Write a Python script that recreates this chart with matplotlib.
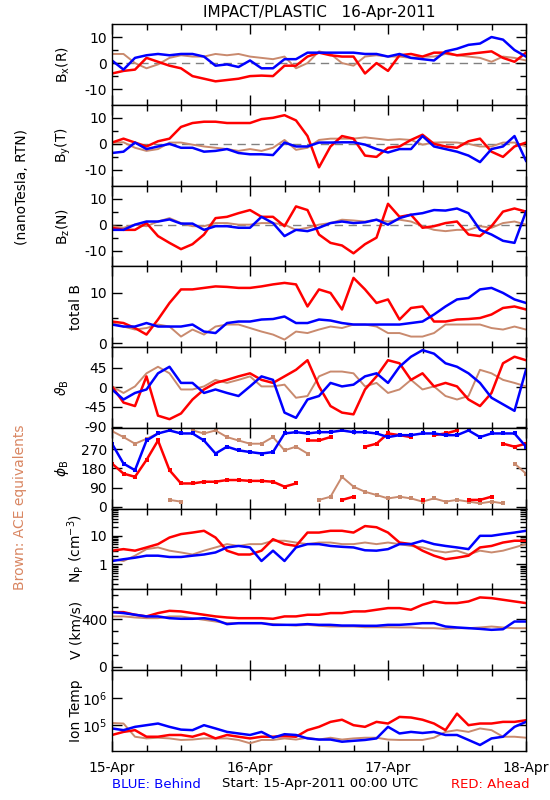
import numpy as np
import matplotlib
matplotlib.use("Agg")
import matplotlib.pyplot as plt
from matplotlib.ticker import FixedLocator, NullFormatter, LogLocator, NullLocator

hours = np.arange(0, 73, 2)

# magnetic field components (nT)
bx_red = [-4, -3, -2.5, 2, 0.5, -1, -2, -5, -6, -7, -6.5, -6, -5, -4.8, -5, -1, -1, 2.5, 4, 3, 2.5, 2.5, -4, 0, -3, 3, 3.5, 2.5, 4, 4, 3, 3.5, 4, 4.5, 2, 0.5, 4]
bx_blue = [1, -2.5, 2, 3, 3.5, 3, 3.5, 3.5, 2.5, -1, -0.5, -1.5, 1, -2, -2, 1.5, 1.5, 4, 4, 4, 4, 4, 3.5, 3.5, 2.5, 3.5, 2, 1.5, 1, 4.5, 5.5, 7, 7.5, 10, 9, 5, 2.5]
bx_ace = [3.5, 3.5, 0, -2, -0.5, 2, 3, 2.5, 2.5, 3.5, 3, 3.5, 2.5, 2, 1.5, 2.5, -2, 0, 4.5, 3.5, 0, -1, 2.5, 3, 2.5, 2.5, 2, 2.5, 2.5, 3.5, 3, 2.5, 2, 0.5, 2.5, 2, 1]

by_red = [0.5, 2, 0.5, -1, 1, 2, 6.5, 8, 8.5, 8.5, 8, 8, 8, 9.5, 10, 11, 9, 3, -9, -1, 3, 2, -4.5, -5, -1.5, -1, 1.5, 3.5, 0, -1, -1.5, 1, 2, -3, -5, -1, 0.5]
by_blue = [-3.5, -3, 0.5, -2, -1, 0, -1.5, -1.5, -3, -2.7, -2, -3.5, -4, -4, -4.3, 0.5, -1, -1, 0.5, 0.5, 0.6, 0.6, -0.3, -2, -3.3, -2, -2, 3, -1, -2, -3, -4.5, -7, -2, -1, 3, -6.5]
by_ace = [0.5, 0.6, -1.5, -2.7, -2, 0.5, 0.5, -0.3, -1, -1.5, -2, -2.7, -2, -2.7, -1.5, 1.5, -2.3, -1.5, 1.5, 2, 2, 2, 2.5, 2, 1.5, 1.8, 1.5, -0.3, 0.5, 0.6, 0.5, 0, -1, -1, 0.5, 0.5, -1]

bz_red = [-1.2, -2, -2, 0.6, -4.4, -7, -9.4, -7.5, -3.8, 2.5, 3, 4.4, 5.6, 3, 3, -0.6, 7, 5.6, -3.8, -7, -8, -11, -7.5, -5, 8, 3, 3.8, -1.2, -0.6, 0.6, 1.2, -3.8, -4.4, -0.6, 5, 6.2, 5]
bz_blue = [-2, -2, 0, 1.2, 1.2, 2, 0.4, 0.4, -2, -0.6, -0.6, -1.2, -1.2, 3, 0.6, -4.4, -2, -2.5, -1.2, 0.6, 1.2, 0.6, 0.9, 1.9, 0, 2.5, 3.8, 4.4, 5.6, 5.4, 6.2, 4.4, -2, -3.8, -6.2, -7, 5]
bz_ace = [-0.6, -1.2, 0, -0.6, 1.2, 2.5, 0.6, -0.6, -0.6, 0.6, 0.6, 0, 0, 0.6, 0.6, 0, -2, -1.2, 0, 0.6, 1.9, 1.6, 1.2, 1.9, 1.2, 1.9, 1.2, -0.6, -2, -2.5, -2, -2, -0.6, -1.2, 0.6, 1.2, 0]

bt_red = [4.3, 4, 3, 1.7, 4.7, 8, 10.7, 10.7, 11, 11.3, 11.2, 11, 11, 11.3, 11.7, 12, 11.7, 7.3, 10.7, 10, 6.7, 13, 10.7, 8, 8.7, 4.7, 7, 7.3, 4.3, 4.3, 4.7, 4.8, 5, 5.7, 7, 7.3, 6.7]
bt_blue = [3.7, 3.3, 3.3, 4, 3.3, 3.3, 3.3, 3.7, 2.3, 2, 4, 4.3, 4.3, 4.7, 4.8, 5.3, 4, 4, 4.7, 4.5, 4, 3.7, 3.7, 3.7, 3.7, 3.7, 4, 4.3, 5.7, 7.3, 8.7, 9, 10.7, 11, 10, 8.7, 8]
bt_ace = [4, 3.3, 2.7, 3, 3.7, 3.3, 1.3, 2.7, 1.7, 3.3, 3.7, 3.7, 3, 2.3, 1.7, 0.7, 2.3, 2, 2.7, 3.3, 3, 3.7, 3.7, 3.3, 2, 2, 1.3, 1.3, 2, 3.7, 3.7, 3.7, 3.7, 3, 2.7, 3.3, 2.7]

# field angles (deg)
th_red = [2, -35, -43, 25, -65, -73, -60, -28, -5, 10, 17, 25, 32, 17, 10, 25, 40, 62, 2, -43, -58, -62, -5, 25, 62, 55, 17, 32, 2, 10, 2, -28, -43, -13, 55, 70, 62]
th_blue = [-5, -28, -13, -5, 32, 47, 10, 10, -13, -5, -13, -20, 2, 25, 17, -58, -70, -28, -20, 10, 2, 6, 25, 32, 10, 47, 70, 85, 77, 55, 47, 32, 10, -24, -39, -54, 40]
th_ace = [2, -13, 2, 32, 47, 32, -5, -5, 2, 17, 10, 17, 25, 2, 2, 6, -24, -20, 25, 36, 36, 32, 2, 10, -13, -5, 17, -5, 2, -20, -28, -20, 40, 32, 17, 10, 2]

ph_red = [203, 156, 141, 220, 311, 172, 110, 110, 118, 118, 126, 126, 122, 122, 118, 95, 110, 311, 311, 327, 33, 48, 282, 296, 344, 336, 327, 33, 336, 344, 358, 33, 33, 48, 296, 282, 296]
ph_blue = [296, 203, 172, 311, 344, 358, 344, 344, 311, 250, 282, 265, 257, 250, 257, 344, 350, 344, 350, 350, 358, 350, 350, 344, 327, 336, 336, 344, 344, 336, 336, 358, 327, 344, 344, 344, 282]
ph_ace = [355, 327, 296, 319, 344, 33, 25, 358, 344, 358, 327, 311, 296, 296, 327, 265, 282, 250, 33, 48, 141, 95, 71, 56, 40, 48, 40, 25, 40, 25, 33, 25, 17, 25, 17, 203, 156]

# proton density (cm^-3)
np_red = [3.0, 3.4, 3.0, 3.9, 5.1, 8.7, 11.5, 13, 15, 8.7, 3.0, 2.2, 2.2, 3.0, 7.6, 5.1, 4.4, 13, 13, 15, 15, 13, 22, 20, 13, 5.8, 5.1, 3.0, 2.0, 1.5, 1.7, 2.0, 3.9, 4.4, 5.8, 6.7, 6.7]
np_blue = [1.3, 1.5, 1.7, 2.0, 2.0, 1.8, 1.8, 2.0, 2.2, 2.6, 3.9, 4.4, 3.9, 1.3, 3.0, 1.3, 3.9, 5.1, 5.1, 4.4, 4.1, 3.9, 3.1, 3.0, 3.4, 5.1, 5.1, 6.7, 5.1, 4.4, 3.9, 3.4, 10, 10, 11.5, 13, 15]
np_ace = [1.5, 1.3, 2.0, 3.4, 3.9, 3.0, 2.6, 2.2, 3.0, 3.9, 5.1, 4.4, 5.1, 5.1, 6.7, 6.7, 5.8, 5.1, 5.8, 5.8, 5.1, 5.1, 5.8, 5.1, 5.8, 5.1, 4.4, 3.9, 3.0, 2.6, 3.0, 2.2, 3.0, 2.6, 3.0, 3.9, 5.1]

# bulk speed (km/s)
v_red = [459, 459, 437, 423, 451, 470, 465, 451, 437, 423, 414, 408, 408, 408, 403, 423, 423, 437, 437, 451, 451, 465, 465, 479, 493, 493, 479, 521, 549, 535, 535, 549, 583, 577, 563, 549, 535]
v_blue = [459, 451, 437, 423, 423, 408, 403, 403, 408, 394, 358, 366, 366, 366, 352, 352, 352, 358, 352, 352, 346, 346, 344, 344, 352, 352, 358, 366, 366, 338, 330, 324, 318, 310, 315, 380, 380]
v_ace = [423, 423, 414, 408, 408, 423, 423, 408, 394, 380, 366, 366, 366, 366, 358, 352, 346, 352, 344, 338, 338, 338, 332, 332, 332, 330, 330, 324, 324, 318, 324, 324, 330, 338, 330, 324, 324]

# ion temperature (thousand K)
t_red = [44, 57, 66, 38, 38, 44, 44, 38, 50, 33, 44, 38, 33, 38, 38, 40, 38, 66, 87, 132, 158, 100, 87, 132, 115, 200, 190, 158, 115, 66, 263, 100, 115, 115, 132, 132, 151]
t_blue = [76, 66, 87, 100, 115, 87, 69, 66, 100, 76, 57, 50, 44, 57, 35, 47, 44, 33, 30, 30, 25, 27, 29, 33, 87, 50, 57, 52, 57, 44, 44, 29, 19, 33, 38, 87, 132]
t_ace = [120, 115, 38, 33, 35, 33, 29, 30, 33, 33, 33, 29, 22, 29, 29, 33, 30, 35, 30, 35, 30, 33, 35, 35, 30, 29, 29, 29, 35, 57, 66, 57, 76, 66, 38, 38, 35]

RED = '#ff0000'
BLUE = '#0000ff'
BROWN = '#c98a6e'

plt.rcParams['font.family'] = 'DejaVu Sans'

fig = plt.figure(figsize=(5.5, 8), dpi=100)
W, H = 550.0, 800.0
left, right, top, bottom = 112, 526, 24, 751
ph = (bottom - top) / 9.0


def unwrap_gaps(y):
    # break the line where the angle wraps around 0/360
    y = np.asarray(y, dtype=float)
    xs, ys = [hours[0]], [y[0]]
    for i in range(1, len(y)):
        if abs(y[i] - y[i - 1]) > 180:
            xs.append(np.nan)
            ys.append(np.nan)
        xs.append(hours[i])
        ys.append(y[i])
    return xs, ys


panels = [
    ('B$_\\mathregular{x}$(R)', bx_ace, bx_red, bx_blue, (-16, 15), [-10, 0, 10], [-5, 5], 63),
    ('B$_\\mathregular{y}$(T)', by_ace, by_red, by_blue, (-16, 15), [-10, 0, 10], [-5, 5], 63),
    ('B$_\\mathregular{z}$(N)', bz_ace, bz_red, bz_blue, (-16, 15), [-10, 0, 10], [-5, 5], 63),
    ('total B', bt_ace, bt_red, bt_blue, (-0.8, 15.3), [0, 10], [5], 76),
    ('$\\vartheta_\\mathregular{B}$', th_ace, th_red, th_blue, (-93, 92), [-90, -45, 0, 45], [], 62),
    ('$\\phi_\\mathregular{B}$', ph_ace, ph_red, ph_blue, (-8, 370), [0, 90, 180, 270], [], 62),
    ('N$_\\mathregular{P}$ (cm$^\\mathregular{-3}$)', np_ace, np_red, np_blue, (0.13, 90), [1, 10], 'log', 76),
    ('V (km/s)', v_ace, v_red, v_blue, (-30, 650), [0, 400], [100, 200, 300, 500, 600], 76),
    ('Ion Temp', [t * 1e3 for t in t_ace], [t * 1e3 for t in t_red], [t * 1e3 for t in t_blue],
     (1.15e4, 1e7), [1e5, 1e6], [], 76),
]

for i, (label, ace, red, blue, ylim, yt, ymin, lx) in enumerate(panels):
    y0 = top + i * ph
    ax = fig.add_axes([left / W, 1 - (y0 + ph) / H, (right - left) / W, ph / H])
    if i in (6, 8):
        ax.set_yscale('log')
    for series, col, lw in ((ace, BROWN, 1.4), (red, RED, 1.8), (blue, BLUE, 1.8)):
        if i == 5:
            xs, ys = unwrap_gaps(series)
            ax.plot(xs, ys, color=col, lw=lw)
            ax.plot(hours, series, ls='none', marker='s', ms=3, color=col, mew=0)
        else:
            ax.plot(hours, series, color=col, lw=lw)
    if i < 3:
        ax.axhline(0, color='#808080', lw=1, ls=(0, (6, 4)), zorder=0)

    ax.set_xlim(0, 72)
    ax.set_ylim(*ylim)
    ax.xaxis.set_major_locator(FixedLocator([0, 24, 48, 72]))
    ax.xaxis.set_minor_locator(FixedLocator(np.arange(0, 73, 6)))
    ax.yaxis.set_major_locator(FixedLocator(yt))
    if ymin == 'log':
        ax.yaxis.set_minor_locator(LogLocator(base=10, subs=np.arange(2, 10)))
    elif len(ymin) == 0:
        ax.yaxis.set_minor_locator(NullLocator())
    else:
        ax.yaxis.set_minor_locator(FixedLocator(ymin))
    ax.yaxis.set_minor_formatter(NullFormatter())
    if i == 6:
        ax.set_yticklabels(['1', '10'])
    elif i == 8:
        ax.set_yticklabels(['10$^\\mathregular{5}$', '10$^\\mathregular{6}$'])
    else:
        ax.set_yticklabels([str(v) for v in yt])
    ax.tick_params(which='both', direction='in', top=True, right=True, labelsize=10, width=1)
    ax.tick_params(which='major', length=7)
    ax.tick_params(which='minor', length=4)
    for s in ax.spines.values():
        s.set_linewidth(1)
    if i == 8:
        ax.set_xticklabels(['15-Apr', '16-Apr', '17-Apr', '18-Apr'])
        ax.tick_params(axis='x', which='major', pad=7, labelsize=10)
    else:
        ax.set_xticklabels([])
    fig.text(lx / W, 1 - (y0 + ph / 2) / H, label, rotation=90, ha='center', va='center', fontsize=10)

fig.text(319 / W, 1 - 12 / H, 'IMPACT/PLASTIC   16-Apr-2011', ha='center', va='center', fontsize=11)
fig.text(22 / W, 1 - 187 / H, '(nanoTesla, RTN)', rotation=90, ha='center', va='center', fontsize=10)
fig.text(20 / W, 1 - 507 / H, 'Brown: ACE equivalents', rotation=90, ha='center', va='center',
         fontsize=10, color='#d98662')
fig.text(156 / W, 1 - 785 / H, 'BLUE: Behind', ha='center', va='center', fontsize=9.5, color=BLUE)
fig.text(320 / W, 1 - 784 / H, 'Start: 15-Apr-2011 00:00 UTC', ha='center', va='center', fontsize=9.5)
fig.text(490 / W, 1 - 785 / H, 'RED: Ahead', ha='center', va='center', fontsize=9.5, color=RED)

fig.savefig('out.png', dpi=100)
